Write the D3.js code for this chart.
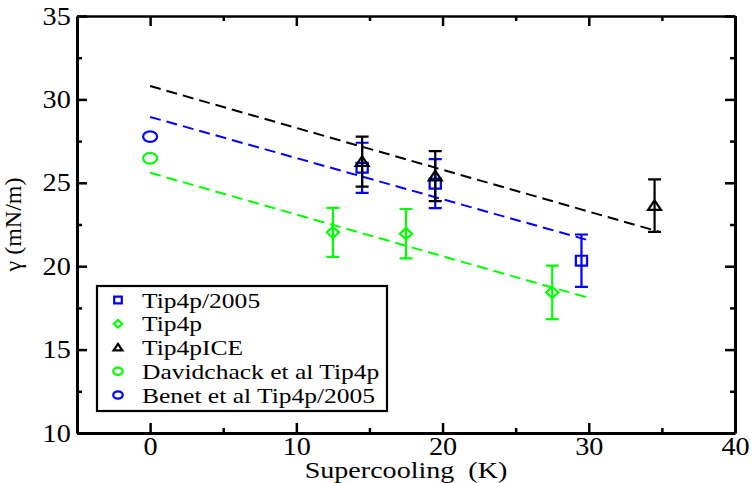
<!DOCTYPE html>
<html>
<head>
<meta charset="utf-8">
<script src="https://cdn.jsdelivr.net/npm/d3@7"></script>
<style>
  body { margin: 0; background: #fff; }
  svg { display: block; }
</style>
</head>
<body>
<div id="chart"></div>
<script>
// tick values
const xTicks = [0, 10, 20, 30, 40];
const xMinor = [5, 15, 25, 35];
const yTicks = [10, 15, 20, 25, 30, 35];
const yMinor = [12.5, 17.5, 22.5, 27.5, 32.5];

// Tip4p/2005
const tip4p2005X = [14.5, 19.5, 29.5];
const tip4p2005Y = [25.9, 24.95, 20.33];
const tip4p2005Err = [1.5, 1.47, 1.57];

// Tip4p
const tip4pX = [12.5, 17.5, 27.5];
const tip4pY = [22.03, 21.95, 18.43];
const tip4pErr = [1.47, 1.48, 1.6];

// Tip4pICE
const tip4pIceX = [14.5, 19.5, 34.5];
const tip4pIceY = [26.27, 25.4, 23.63];
const tip4pIceErr = [1.5, 1.5, 1.57];

// literature points at zero supercooling
const davidchackX = [0];
const davidchackY = [26.47];
const benetX = [0];
const benetY = [27.77];

// dashed fit lines
const fitIceX = [0, 34.8];
const fitIceY = [30.8, 22.07];
const fit2005X = [0, 30];
const fit2005Y = [28.95, 21.55];
const fitTip4pX = [0, 30];
const fitTip4pY = [25.6, 18.1];

const legendLabels = ["Tip4p/2005", "Tip4p", "Tip4pICE", "Davidchack et al Tip4p", "Benet et al Tip4p/2005"];

const W = 752, H = 483;
const margin = { top: 16, right: 17, bottom: 50, left: 77 };
const SX = 1.13; // figure is stretched horizontally
const FONT = "'Liberation Serif'";

const x = d3.scaleLinear().domain([-5, 40]).range([margin.left, W - margin.right]);
const y = d3.scaleLinear().domain([10, 35]).range([H - margin.bottom, margin.top]);

const svg = d3.select("#chart").append("svg")
  .attr("width", W)
  .attr("height", H);

const BLUE = "#0000ff", GREEN = "#00ff00", BLACK = "#000000";

const zip = (xs, ys, es) => xs.map((v, i) => ({ x: v, y: ys[i], e: es ? es[i] : 0 }));

const series = [
  { name: legendLabels[0], color: BLUE, shape: "square", data: zip(tip4p2005X, tip4p2005Y, tip4p2005Err) },
  { name: legendLabels[1], color: GREEN, shape: "diamond", data: zip(tip4pX, tip4pY, tip4pErr) },
  { name: legendLabels[2], color: BLACK, shape: "triangle", data: zip(tip4pIceX, tip4pIceY, tip4pIceErr) },
  { name: legendLabels[3], color: GREEN, shape: "circle", data: zip(davidchackX, davidchackY) },
  { name: legendLabels[4], color: BLUE, shape: "circle", data: zip(benetX, benetY) }
];

const fits = [
  { color: BLACK, data: zip(fitIceX, fitIceY) },
  { color: BLUE, data: zip(fit2005X, fit2005Y) },
  { color: GREEN, data: zip(fitTip4pX, fitTip4pY) }
];

// marker path, s = half width
function markerPath(shape, s) {
  const h = s * 0.88;
  if (shape === "square") return `M${-s},${-h}H${s}V${h}H${-s}Z`;
  if (shape === "diamond") return `M0,${-s}L${s * 1.1},0L0,${s}L${-s * 1.1},0Z`;
  if (shape === "triangle") return `M0,${-s * 0.95}L${s * 1.15},${s * 0.75}L${-s * 1.15},${s * 0.75}Z`;
  // ellipse as circle stretched
  return `M${-s * 1.25},0A${s * 1.25},${s * 0.95} 0 1,0 ${s * 1.25},0A${s * 1.25},${s * 0.95} 0 1,0 ${-s * 1.25},0Z`;
}

// dashed lines
const line = d3.line().x(d => x(d.x)).y(d => y(d.y));
svg.selectAll(".fit")
  .data(fits)
  .enter().append("path")
  .attr("class", "fit")
  .attr("d", d => line(d.data))
  .attr("fill", "none")
  .attr("stroke", d => d.color)
  .attr("stroke-width", 2)
  .attr("stroke-dasharray", "11,6");

// error bars and markers
series.forEach(s => {
  const g = svg.append("g");
  const withErr = s.data.filter(d => d.e > 0);
  g.selectAll(".eb")
    .data(withErr)
    .enter().append("path")
    .attr("d", d => {
      const cx = x(d.x), t = y(d.y + d.e), b = y(d.y - d.e);
      return `M${cx},${t}V${b}M${cx - 6.5},${t}H${cx + 6.5}M${cx - 6.5},${b}H${cx + 6.5}`;
    })
    .attr("fill", "none")
    .attr("stroke", s.color)
    .attr("stroke-width", 2.2);
  g.selectAll(".pt")
    .data(s.data)
    .enter().append("path")
    .attr("transform", d => `translate(${x(d.x)},${y(d.y)})`)
    .attr("d", markerPath(s.shape, 5.6))
    .attr("fill", "none")
    .attr("stroke", s.color)
    .attr("stroke-width", 2.2);
});

// axes
const pBottom = H - margin.bottom, pTop = margin.top, pLeft = margin.left, pRight = W - margin.right;

function styleAxis(g, fontSize) {
  g.attr("font-family", null);
  g.select(".domain").attr("stroke-width", 3);
  g.selectAll(".tick line").attr("stroke-width", 2.5);
  g.selectAll(".tick text")
    .attr("font-size", fontSize)
    .style("font-family", FONT)
    .attr("fill", "#000");
}

const xAxis = svg.append("g")
  .attr("transform", `translate(0,${pBottom})`)
  .call(d3.axisBottom(x).tickValues(xTicks).tickSize(-10).tickSizeOuter(0).tickPadding(4));
styleAxis(xAxis, 25);
xAxis.selectAll(".tick text").attr("transform", `scale(${SX},1)`);

const yAxis = svg.append("g")
  .attr("transform", `translate(${pLeft},0)`)
  .call(d3.axisLeft(y).tickValues(yTicks).tickSize(-10).tickSizeOuter(0).tickPadding(5.5));
styleAxis(yAxis, 25);
yAxis.selectAll(".tick text").attr("transform", `scale(${SX},1)`);

const xTop = svg.append("g")
  .attr("transform", `translate(0,${pTop})`)
  .call(d3.axisTop(x).tickValues(xTicks).tickSize(-10).tickSizeOuter(0).tickFormat(""));
styleAxis(xTop, 0);
xTop.select(".domain").attr("stroke-width", 2.5);

const yRight = svg.append("g")
  .attr("transform", `translate(${pRight},0)`)
  .call(d3.axisRight(y).tickValues(yTicks).tickSize(-10).tickSizeOuter(0).tickFormat(""));
styleAxis(yRight, 0);

// minor ticks
[
  [d3.axisBottom(x).tickValues(xMinor), `translate(0,${pBottom})`],
  [d3.axisTop(x).tickValues(xMinor), `translate(0,${pTop})`],
  [d3.axisLeft(y).tickValues(yMinor), `translate(${pLeft},0)`],
  [d3.axisRight(y).tickValues(yMinor), `translate(${pRight},0)`]
].forEach(([ax, tr]) => {
  const g = svg.append("g")
    .attr("transform", tr)
    .call(ax.tickSize(-5).tickSizeOuter(0).tickFormat(""));
  g.select(".domain").remove();
  g.selectAll(".tick line").attr("stroke-width", 2.5);
});

// axis titles
svg.append("text")
  .attr("transform", `translate(${(pLeft + pRight) / 2},${pBottom + 45}) scale(1.17,1)`)
  .attr("text-anchor", "middle")
  .attr("font-size", 24)
  .style("font-family", FONT)
  .style("white-space", "pre")
  .text("Supercooling  (K)");

svg.append("text")
  .attr("transform", `translate(21,${(pTop + pBottom) / 2}) rotate(-90)`)
  .attr("text-anchor", "middle")
  .attr("font-size", 24)
  .style("font-family", FONT)
  .text("γ (mN/m)");

// legend
const legend = svg.append("g");
legend.append("rect")
  .attr("x", 97)
  .attr("y", 286)
  .attr("width", 290)
  .attr("height", 125)
  .attr("fill", "#fff")
  .attr("stroke", "#000")
  .attr("stroke-width", 2.2);

const rows = legend.selectAll(".row")
  .data(series)
  .enter().append("g")
  .attr("class", "row")
  .attr("transform", (d, i) => `translate(118,${300 + i * 23.75})`);

rows.append("path")
  .attr("d", d => markerPath(d.shape, 3.8))
  .attr("fill", "none")
  .attr("stroke", d => d.color)
  .attr("stroke-width", 2.2);

rows.append("text")
  .attr("transform", `translate(24,7.5) scale(1.16,1)`)
  .attr("font-size", 22)
  .style("font-family", FONT)
  .text(d => d.name);
</script>
</body>
</html>
